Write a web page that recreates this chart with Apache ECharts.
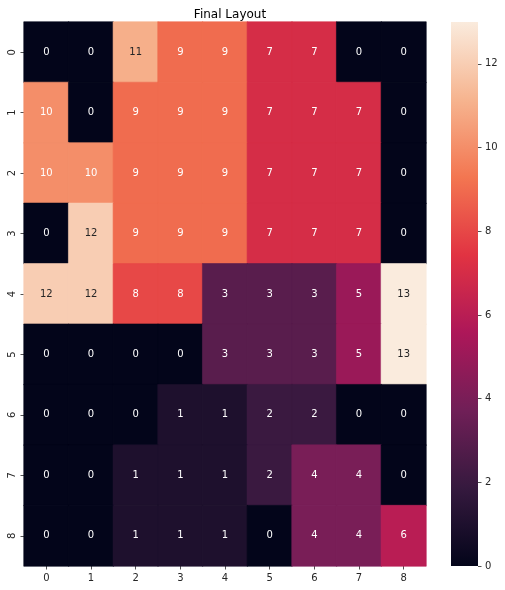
<!DOCTYPE html>
<html>
<head>
<meta charset="utf-8">
<script src="https://cdn.jsdelivr.net/npm/echarts@6/dist/echarts.min.js"></script>
<style>html,body{margin:0;padding:0;background:#fff;}#c{width:505px;height:590px;}</style>
</head>
<body>
<div id="c"></div>
<script>
const xLabels = ['0','1','2','3','4','5','6','7','8'];
const yLabels = ['0','1','2','3','4','5','6','7','8'];
const row0 = [0, 0, 11, 9, 9, 7, 7, 0, 0];
const row1 = [10, 0, 9, 9, 9, 7, 7, 7, 0];
const row2 = [10, 10, 9, 9, 9, 7, 7, 7, 0];
const row3 = [0, 12, 9, 9, 9, 7, 7, 7, 0];
const row4 = [12, 12, 8, 8, 3, 3, 3, 5, 13];
const row5 = [0, 0, 0, 0, 3, 3, 3, 5, 13];
const row6 = [0, 0, 0, 1, 1, 2, 2, 0, 0];
const row7 = [0, 0, 1, 1, 1, 2, 4, 4, 0];
const row8 = [0, 0, 1, 1, 1, 0, 4, 4, 6];
const rows = [row0, row1, row2, row3, row4, row5, row6, row7, row8];
const colorTicks = [0, 2, 4, 6, 8, 10, 12];
const vMin = 0, vMax = 13;

const rocket = ['#03051a', '#35193e', '#701f57', '#ad1759', '#e13342', '#f37651', '#f6b48f', '#faebdd'];

const data = [];
rows.forEach((r, yi) => r.forEach((v, xi) => {
  const c = echarts.color.lerp((v - vMin) / (vMax - vMin), rocket);
  data.push({
    value: [xi, yi, v],
    itemStyle: { borderColor: c, borderWidth: 0.6 },
    label: { color: v >= 11 ? '#262626' : '#ffffff' }
  });
}));

const chart = echarts.init(document.getElementById('c'));
const font = 'DejaVu Sans';
chart.setOption({
  animation: false,
  backgroundColor: '#ffffff',
  textStyle: { fontFamily: font },
  title: {
    text: 'Final Layout',
    left: 225, top: 4, textAlign: 'center',
    textStyle: { fontFamily: font, fontSize: 12, fontWeight: 'normal', color: '#000' }
  },
  grid: [
    { left: 24, top: 22, width: 402, height: 544 },
    { left: 451, top: 22, width: 27, height: 544 }
  ],
  xAxis: [
    {
      type: 'category', data: xLabels, gridIndex: 0, position: 'bottom',
      axisLine: { show: false },
      axisTick: { show: true, alignWithLabel: true, length: 3.5, lineStyle: { color: '#262626', width: 0.8 } },
      axisLabel: { margin: 7, fontSize: 10, color: '#262626', fontFamily: font },
      splitLine: { show: false }
    },
    { type: 'category', data: ['c'], gridIndex: 1, show: false }
  ],
  yAxis: [
    {
      type: 'category', data: yLabels, gridIndex: 0, inverse: true,
      axisLine: { show: false },
      axisTick: { show: true, alignWithLabel: true, length: 3.5, lineStyle: { color: '#262626', width: 0.8 } },
      axisLabel: { margin: 7, fontSize: 10, color: '#262626', fontFamily: font, rotate: 90 },
      splitLine: { show: false }
    },
    {
      type: 'value', gridIndex: 1, min: vMin, max: vMax, interval: 2, position: 'right',
      axisLine: { show: false },
      axisTick: { show: true, length: 3.5, lineStyle: { color: '#262626', width: 0.8 } },
      axisLabel: { margin: 7, fontSize: 10, color: '#262626', fontFamily: font, showMaxLabel: false,
        formatter: v => colorTicks.indexOf(v) >= 0 ? String(v) : '' },
      splitLine: { show: false }
    }
  ],
  visualMap: {
    show: false, min: vMin, max: vMax, seriesIndex: 0, dimension: 2,
    inRange: { color: rocket }
  },
  series: [
    {
      type: 'heatmap', xAxisIndex: 0, yAxisIndex: 0, data: data,
      label: { show: true, fontSize: 10, fontFamily: font, formatter: p => String(p.value[2]) },
      emphasis: { disabled: true }
    },
    {
      type: 'bar', xAxisIndex: 1, yAxisIndex: 1, data: [vMax], barWidth: '100%',
      silent: true,
      itemStyle: {
        color: new echarts.graphic.LinearGradient(0, 1, 0, 0,
          rocket.map((c, i) => ({ offset: i / (rocket.length - 1), color: c })))
      }
    }
  ]
});
</script>
</body>
</html>
